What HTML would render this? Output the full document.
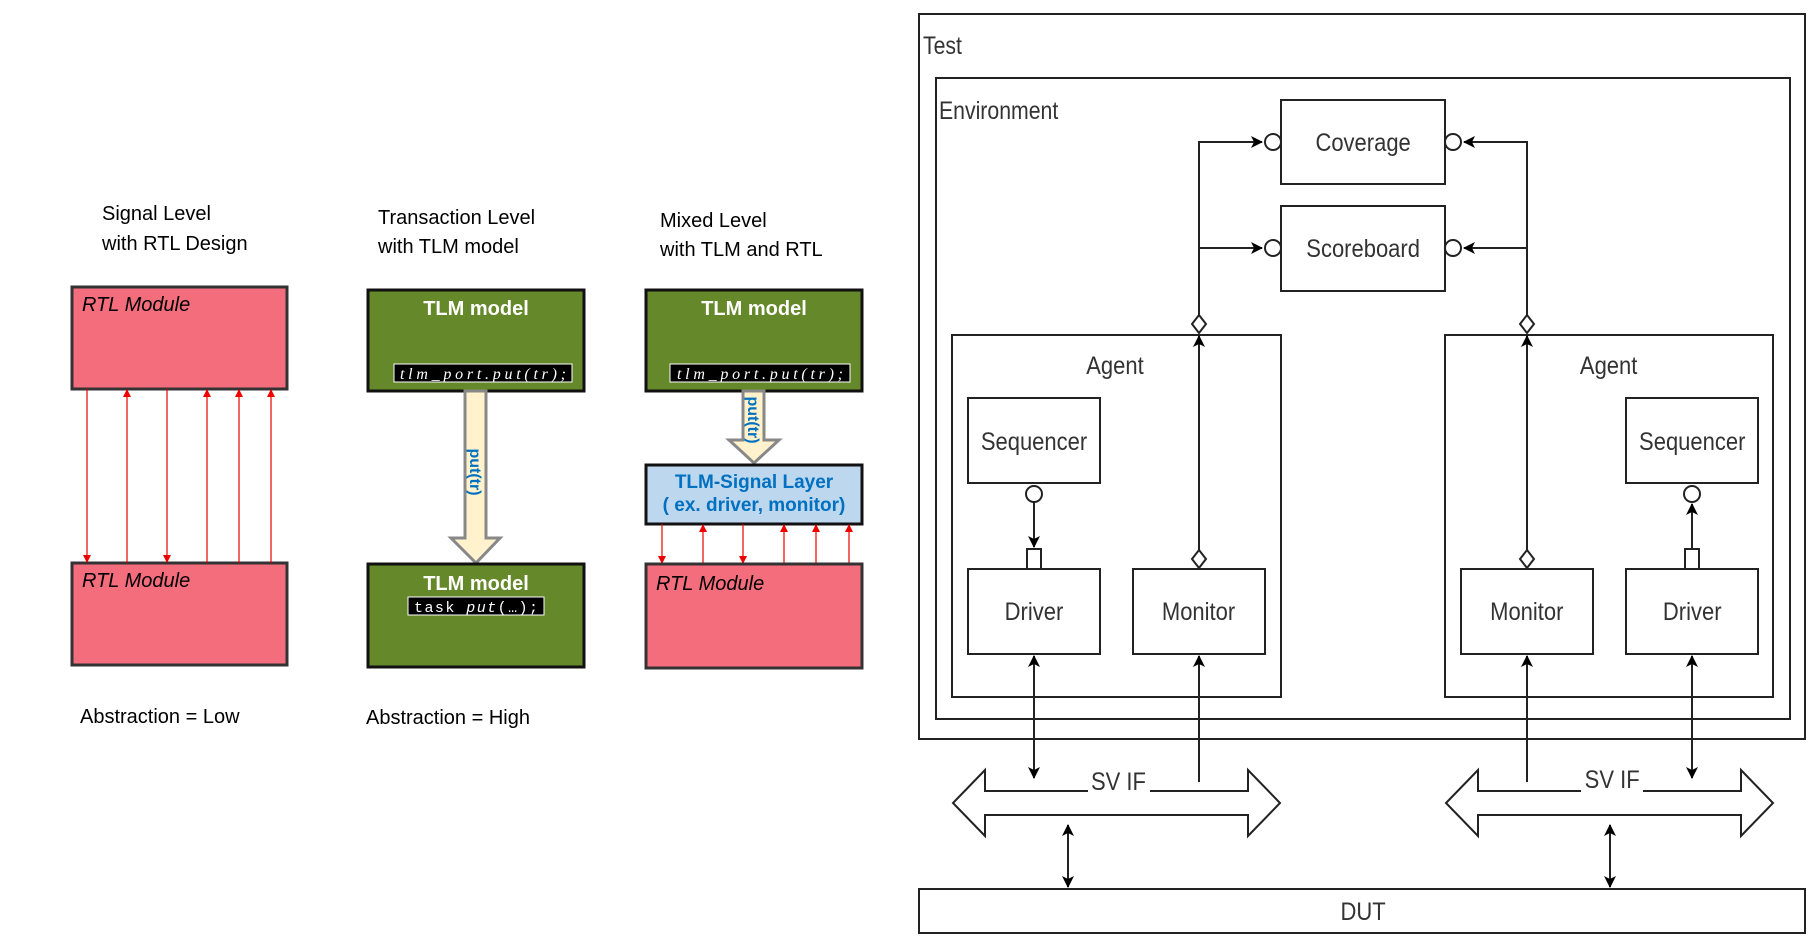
<!DOCTYPE html>
<html><head><meta charset="utf-8"><style>
html,body{margin:0;padding:0;background:#fff;}
svg{display:block;}
</style></head><body>
<svg width="1814" height="945" viewBox="0 0 1814 945" xmlns="http://www.w3.org/2000/svg">
<defs>
<marker id="ra" markerWidth="8" markerHeight="8" refX="7" refY="4" orient="auto" markerUnits="userSpaceOnUse"><path d="M0,0 L8,4 L0,8 z" fill="#e00"/></marker>
<marker id="ka" markerWidth="12" markerHeight="12" refX="11" refY="6" orient="auto" markerUnits="userSpaceOnUse"><path d="M0,0 L12,6 L0,12 L3,6 z" fill="#000"/></marker>
<marker id="kb" markerWidth="12" markerHeight="12" refX="1" refY="6" orient="auto" markerUnits="userSpaceOnUse"><path d="M12,0 L0,6 L12,12 L9,6 z" fill="#000"/></marker>
</defs>
<g font-family="Liberation Sans, sans-serif">
<text x="102" y="220" font-size="20">Signal Level</text>
<text x="102" y="250" font-size="20">with RTL Design</text>
<text x="378" y="224" font-size="20">Transaction Level</text>
<text x="378" y="253" font-size="20">with TLM model</text>
<text x="660" y="227" font-size="20">Mixed Level</text>
<text x="660" y="256" font-size="20">with TLM and RTL</text>
<text x="80" y="723" font-size="20">Abstraction = Low</text>
<text x="366" y="724" font-size="20">Abstraction = High</text>

<rect x="72" y="287" width="215" height="102" fill="#f46d7d" stroke="#333" stroke-width="3"/>
<text x="82" y="311" font-size="20" font-style="italic">RTL Module</text>
<rect x="72" y="563" width="215" height="102" fill="#f46d7d" stroke="#333" stroke-width="3"/>
<text x="82" y="587" font-size="20" font-style="italic">RTL Module</text>
<g stroke="#e00" stroke-width="1.2">
<line x1="87" y1="389" x2="87" y2="562" marker-end="url(#ra)"/>
<line x1="127" y1="563" x2="127" y2="390" marker-end="url(#ra)"/>
<line x1="167" y1="389" x2="167" y2="562" marker-end="url(#ra)"/>
<line x1="207" y1="563" x2="207" y2="390" marker-end="url(#ra)"/>
<line x1="239" y1="563" x2="239" y2="390" marker-end="url(#ra)"/>
<line x1="271" y1="563" x2="271" y2="390" marker-end="url(#ra)"/>
</g>

<rect x="368" y="290" width="216" height="101" fill="#64882a" stroke="#111" stroke-width="3"/>
<text x="476" y="315" font-size="20" font-weight="bold" fill="#fff" text-anchor="middle">TLM model</text>
<rect x="394" y="364" width="178" height="18" fill="#000" stroke="#fff" stroke-width="1"/>
<text x="483" y="379" font-size="16" font-family="Liberation Serif, serif" font-style="italic" fill="#fff" text-anchor="middle" textLength="166">tlm_port.put(tr);</text>
<path d="M465,391 L486,391 L486,538 L500,538 L476,563 L451,538 L465,538 z" fill="#fff2cc" stroke="#888" stroke-width="3"/>
<text transform="translate(470,472) rotate(90)" font-size="16" font-weight="bold" fill="#0070c0" text-anchor="middle">put(tr)</text>
<rect x="368" y="564" width="216" height="103" fill="#64882a" stroke="#111" stroke-width="3"/>
<text x="476" y="590" font-size="20" font-weight="bold" fill="#fff" text-anchor="middle">TLM model</text>
<rect x="408" y="597" width="136" height="18" fill="#000" stroke="#fff" stroke-width="1"/>
<text x="476" y="612" font-size="15" font-family="Liberation Mono, monospace" fill="#fff" text-anchor="middle" textLength="124">task <tspan font-style="italic">put</tspan>(…);</text>

<rect x="646" y="290" width="216" height="101" fill="#64882a" stroke="#111" stroke-width="3"/>
<text x="754" y="315" font-size="20" font-weight="bold" fill="#fff" text-anchor="middle">TLM model</text>
<rect x="670" y="364" width="180" height="18" fill="#000" stroke="#fff" stroke-width="1"/>
<text x="760" y="379" font-size="16" font-family="Liberation Serif, serif" font-style="italic" fill="#fff" text-anchor="middle" textLength="166">tlm_port.put(tr);</text>
<path d="M743,391 L764,391 L764,440 L779,440 L754,463 L729,440 L743,440 z" fill="#fff2cc" stroke="#888" stroke-width="3"/>
<text transform="translate(748,420) rotate(90)" font-size="16" font-weight="bold" fill="#0070c0" text-anchor="middle">put(tr)</text>
<rect x="646" y="465" width="216" height="59" fill="#bdd7ee" stroke="#111" stroke-width="3"/>
<text x="754" y="488" font-size="19" font-weight="bold" fill="#0070c0" text-anchor="middle">TLM-Signal Layer</text>
<text x="754" y="511" font-size="19" font-weight="bold" fill="#0070c0" text-anchor="middle">( ex. driver, monitor)</text>
<g stroke="#e00" stroke-width="1.2">
<line x1="662" y1="524" x2="662" y2="563" marker-end="url(#ra)"/>
<line x1="703" y1="564" x2="703" y2="525" marker-end="url(#ra)"/>
<line x1="743" y1="524" x2="743" y2="563" marker-end="url(#ra)"/>
<line x1="784" y1="564" x2="784" y2="525" marker-end="url(#ra)"/>
<line x1="816" y1="564" x2="816" y2="525" marker-end="url(#ra)"/>
<line x1="849" y1="564" x2="849" y2="525" marker-end="url(#ra)"/>
</g>
<rect x="646" y="564" width="216" height="104" fill="#f46d7d" stroke="#333" stroke-width="3"/>
<text x="656" y="590" font-size="20" font-style="italic">RTL Module</text>
</g>

<g font-family="Liberation Sans, sans-serif" fill="none" stroke="#222" stroke-width="2">
<rect x="919" y="14" width="886" height="725"/>
<rect x="936" y="78" width="854" height="641"/>
<rect x="1281" y="100" width="164" height="84"/>
<rect x="1281" y="206" width="164" height="85"/>
<rect x="952" y="335" width="329" height="362"/>
<rect x="1445" y="335" width="328" height="362"/>
<rect x="968" y="398" width="132" height="85"/>
<rect x="968" y="569" width="132" height="85"/>
<rect x="1133" y="569" width="132" height="85"/>
<rect x="1461" y="569" width="132" height="85"/>
<rect x="1626" y="569" width="132" height="85"/>
<rect x="1626" y="398" width="132" height="85"/>
<rect x="919" y="889" width="886" height="44"/>
<polyline points="1199,315 1199,142 1262,142" marker-end="url(#ka)"/>
<line x1="1199" y1="248" x2="1262" y2="248" marker-end="url(#ka)"/>
<line x1="1199" y1="550" x2="1199" y2="336" marker-end="url(#ka)"/>
<circle cx="1273" cy="142" r="8" fill="#fff"/>
<circle cx="1273" cy="248" r="8" fill="#fff"/>
<path d="M1199,315 L1206,324 L1199,333 L1192,324 z" fill="#fff"/>
<path d="M1199,550 L1206,559 L1199,568 L1192,559 z" fill="#fff"/>
<polyline points="1527,315 1527,142 1464,142" marker-end="url(#ka)"/>
<line x1="1527" y1="248" x2="1464" y2="248" marker-end="url(#ka)"/>
<line x1="1527" y1="550" x2="1527" y2="336" marker-end="url(#ka)"/>
<circle cx="1453" cy="142" r="8" fill="#fff"/>
<circle cx="1453" cy="248" r="8" fill="#fff"/>
<path d="M1527,315 L1534,324 L1527,333 L1520,324 z" fill="#fff"/>
<path d="M1527,550 L1534,559 L1527,568 L1520,559 z" fill="#fff"/>
<circle cx="1034" cy="494" r="8" fill="#fff"/>
<line x1="1034" y1="502" x2="1034" y2="547" marker-end="url(#ka)"/>
<rect x="1027" y="549" width="14" height="20" fill="#fff"/>
<circle cx="1692" cy="494" r="8" fill="#fff"/>
<line x1="1692" y1="549" x2="1692" y2="504" marker-end="url(#ka)"/>
<rect x="1685" y="549" width="14" height="20" fill="#fff"/>
<line x1="1034" y1="656" x2="1034" y2="778" marker-start="url(#kb)" marker-end="url(#ka)"/>
<line x1="1199" y1="782" x2="1199" y2="656" marker-end="url(#ka)"/>
<line x1="1527" y1="782" x2="1527" y2="656" marker-end="url(#ka)"/>
<line x1="1692" y1="656" x2="1692" y2="778" marker-start="url(#kb)" marker-end="url(#ka)"/>
<line x1="1068" y1="825" x2="1068" y2="887" marker-start="url(#kb)" marker-end="url(#ka)"/>
<line x1="1610" y1="825" x2="1610" y2="887" marker-start="url(#kb)" marker-end="url(#ka)"/>
<path d="M1088,791 L985,791 L985,770 L953,803 L985,836 L985,815 L1248,815 L1248,836 L1280,803 L1248,770 L1248,791 L1150,791" fill="#fff"/>
<path d="M1581,791 L1478,791 L1478,770 L1446,803 L1478,836 L1478,815 L1741,815 L1741,836 L1773,803 L1741,770 L1741,791 L1643,791" fill="#fff"/>
</g>
<g font-family="Liberation Sans, sans-serif" fill="#333" font-size="25">
<text x="923" y="54" transform="translate(923,0) scale(0.85,1) translate(-923,0)">Test</text>
<text x="939" y="119" transform="translate(939,0) scale(0.85,1) translate(-939,0)">Environment</text>
<g text-anchor="middle" transform="scale(0.88,1)">
<text x="1549" y="151">Coverage</text>
<text x="1549" y="257">Scoreboard</text>
<text x="1267" y="374">Agent</text>
<text x="1828" y="374">Agent</text>
<text x="1175" y="450">Sequencer</text>
<text x="1175" y="620">Driver</text>
<text x="1362" y="620">Monitor</text>
<text x="1735" y="620">Monitor</text>
<text x="1923" y="620">Driver</text>
<text x="1923" y="450">Sequencer</text>
<text x="1271" y="790">SV IF</text>
<text x="1832" y="788">SV IF</text>
<text x="1549" y="920">DUT</text>
</g>
</g>
</svg>
</body></html>
